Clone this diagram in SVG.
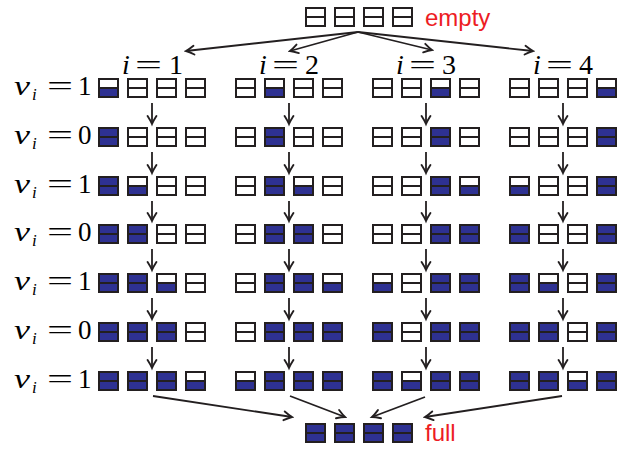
<svg xmlns="http://www.w3.org/2000/svg" xmlns:xlink="http://www.w3.org/1999/xlink" width="634" height="450" viewBox="0 0 634 450">
<style>
.b{fill:none;stroke:#231f20;stroke-width:2}
.w{fill:#ffffff}
.f{fill:#2e3192}
.c{fill:none;stroke:#231f20;stroke-width:1.8}
.m{font-family:"Liberation Serif","Times New Roman",serif;fill:#000}
.s{font-size:27px}
.v{font-size:28px;font-style:italic}
.t{font-size:28px}
.sub{font-size:17px;font-style:italic}
.it{font-style:italic}
.red{font-family:"Liberation Sans",Arial,sans-serif;font-size:24px;fill:#ed1c24}
</style>
<defs>
<marker id="ah" markerUnits="userSpaceOnUse" markerWidth="12" markerHeight="12" viewBox="-9 -6 11 12" refX="0" refY="0" orient="auto">
<path d="M-8,-4.4 Q-3,-1.2 0,0 Q-3,1.2 -8,4.4" fill="none" stroke="#231f20" stroke-width="1.9" stroke-linecap="round"/>
</marker>
<g id="E"><rect class="w" x="1" y="1" width="19" height="18"/><rect class="b" x="1" y="1" width="19" height="18"/><line class="b" x1="1" y1="10" x2="20" y2="10"/></g>
<g id="H"><rect class="w" x="1" y="1" width="19" height="9"/><rect class="f" x="1" y="10" width="19" height="9"/><rect class="b" x="1" y="1" width="19" height="18"/><line class="b" x1="1" y1="10" x2="20" y2="10"/></g>
<g id="F"><rect class="f" x="1" y="1" width="19" height="18"/><rect class="b" x="1" y="1" width="19" height="18"/><line class="b" x1="1" y1="10" x2="20" y2="10"/></g>
</defs>
<rect width="634" height="450" fill="#ffffff"/>

<g id="empty">
<use xlink:href="#E" x="305" y="7"/><use xlink:href="#E" x="334" y="7"/><use xlink:href="#E" x="363" y="7"/><use xlink:href="#E" x="392" y="7"/>
<text class="red" x="425" y="26">empty</text>
</g>
<g id="full">
<use xlink:href="#F" x="305" y="423"/><use xlink:href="#F" x="334" y="423"/><use xlink:href="#F" x="363" y="423"/><use xlink:href="#F" x="392" y="423"/>
<text class="red" x="425" y="441">full</text>
</g>

<g id="col-labels">
<g id="lab-i1"><text class="m t it" x="122" y="74">i</text><text class="m t" x="135" y="74" textLength="27" lengthAdjust="spacingAndGlyphs">=</text><text class="m t" x="169" y="74">1</text></g>
<g id="lab-i2"><text class="m t it" x="259" y="74">i</text><text class="m t" x="272" y="74" textLength="27" lengthAdjust="spacingAndGlyphs">=</text><text class="m t" x="305" y="74">2</text></g>
<g id="lab-i3"><text class="m t it" x="396" y="74">i</text><text class="m t" x="409" y="74" textLength="27" lengthAdjust="spacingAndGlyphs">=</text><text class="m t" x="442" y="74">3</text></g>
<g id="lab-i4"><text class="m t it" x="533" y="74">i</text><text class="m t" x="546" y="74" textLength="27" lengthAdjust="spacingAndGlyphs">=</text><text class="m t" x="579" y="74">4</text></g>
</g>

<g id="row-labels">
<g id="lab-r1"><text class="m v" x="14" y="95" textLength="16" lengthAdjust="spacingAndGlyphs">v</text><text class="m sub" x="32" y="100">i</text><text class="m s" x="47" y="95" textLength="26" lengthAdjust="spacingAndGlyphs">=</text><text class="m s" x="78" y="95">1</text></g>
<g id="lab-r2"><text class="m v" x="14" y="144" textLength="16" lengthAdjust="spacingAndGlyphs">v</text><text class="m sub" x="32" y="149">i</text><text class="m s" x="47" y="144" textLength="26" lengthAdjust="spacingAndGlyphs">=</text><text class="m s" x="78" y="144">0</text></g>
<g id="lab-r3"><text class="m v" x="14" y="193" textLength="16" lengthAdjust="spacingAndGlyphs">v</text><text class="m sub" x="32" y="198">i</text><text class="m s" x="47" y="193" textLength="26" lengthAdjust="spacingAndGlyphs">=</text><text class="m s" x="78" y="193">1</text></g>
<g id="lab-r4"><text class="m v" x="14" y="241" textLength="16" lengthAdjust="spacingAndGlyphs">v</text><text class="m sub" x="32" y="246">i</text><text class="m s" x="47" y="241" textLength="26" lengthAdjust="spacingAndGlyphs">=</text><text class="m s" x="78" y="241">0</text></g>
<g id="lab-r5"><text class="m v" x="14" y="290" textLength="16" lengthAdjust="spacingAndGlyphs">v</text><text class="m sub" x="32" y="295">i</text><text class="m s" x="47" y="290" textLength="26" lengthAdjust="spacingAndGlyphs">=</text><text class="m s" x="78" y="290">1</text></g>
<g id="lab-r6"><text class="m v" x="14" y="339" textLength="16" lengthAdjust="spacingAndGlyphs">v</text><text class="m sub" x="32" y="344">i</text><text class="m s" x="47" y="339" textLength="26" lengthAdjust="spacingAndGlyphs">=</text><text class="m s" x="78" y="339">0</text></g>
<g id="lab-r7"><text class="m v" x="14" y="388" textLength="16" lengthAdjust="spacingAndGlyphs">v</text><text class="m sub" x="32" y="393">i</text><text class="m s" x="47" y="388" textLength="26" lengthAdjust="spacingAndGlyphs">=</text><text class="m s" x="78" y="388">1</text></g>
</g>

<g id="col1">
<g id="s1-1"><use xlink:href="#H" x="98" y="78"/><use xlink:href="#E" x="127" y="78"/><use xlink:href="#E" x="156" y="78"/><use xlink:href="#E" x="185" y="78"/></g>
<g id="s1-2"><use xlink:href="#F" x="98" y="127"/><use xlink:href="#E" x="127" y="127"/><use xlink:href="#E" x="156" y="127"/><use xlink:href="#E" x="185" y="127"/></g>
<g id="s1-3"><use xlink:href="#F" x="98" y="176"/><use xlink:href="#H" x="127" y="176"/><use xlink:href="#E" x="156" y="176"/><use xlink:href="#E" x="185" y="176"/></g>
<g id="s1-4"><use xlink:href="#F" x="98" y="224"/><use xlink:href="#F" x="127" y="224"/><use xlink:href="#E" x="156" y="224"/><use xlink:href="#E" x="185" y="224"/></g>
<g id="s1-5"><use xlink:href="#F" x="98" y="273"/><use xlink:href="#F" x="127" y="273"/><use xlink:href="#H" x="156" y="273"/><use xlink:href="#E" x="185" y="273"/></g>
<g id="s1-6"><use xlink:href="#F" x="98" y="322"/><use xlink:href="#F" x="127" y="322"/><use xlink:href="#F" x="156" y="322"/><use xlink:href="#E" x="185" y="322"/></g>
<g id="s1-7"><use xlink:href="#F" x="98" y="371"/><use xlink:href="#F" x="127" y="371"/><use xlink:href="#F" x="156" y="371"/><use xlink:href="#H" x="185" y="371"/></g>
</g>
<g id="col2">
<g id="s2-1"><use xlink:href="#E" x="235" y="78"/><use xlink:href="#H" x="264" y="78"/><use xlink:href="#E" x="293" y="78"/><use xlink:href="#E" x="322" y="78"/></g>
<g id="s2-2"><use xlink:href="#E" x="235" y="127"/><use xlink:href="#F" x="264" y="127"/><use xlink:href="#E" x="293" y="127"/><use xlink:href="#E" x="322" y="127"/></g>
<g id="s2-3"><use xlink:href="#E" x="235" y="176"/><use xlink:href="#F" x="264" y="176"/><use xlink:href="#H" x="293" y="176"/><use xlink:href="#E" x="322" y="176"/></g>
<g id="s2-4"><use xlink:href="#E" x="235" y="224"/><use xlink:href="#F" x="264" y="224"/><use xlink:href="#F" x="293" y="224"/><use xlink:href="#E" x="322" y="224"/></g>
<g id="s2-5"><use xlink:href="#E" x="235" y="273"/><use xlink:href="#F" x="264" y="273"/><use xlink:href="#F" x="293" y="273"/><use xlink:href="#H" x="322" y="273"/></g>
<g id="s2-6"><use xlink:href="#E" x="235" y="322"/><use xlink:href="#F" x="264" y="322"/><use xlink:href="#F" x="293" y="322"/><use xlink:href="#F" x="322" y="322"/></g>
<g id="s2-7"><use xlink:href="#H" x="235" y="371"/><use xlink:href="#F" x="264" y="371"/><use xlink:href="#F" x="293" y="371"/><use xlink:href="#F" x="322" y="371"/></g>
</g>
<g id="col3">
<g id="s3-1"><use xlink:href="#E" x="372" y="78"/><use xlink:href="#E" x="401" y="78"/><use xlink:href="#H" x="430" y="78"/><use xlink:href="#E" x="459" y="78"/></g>
<g id="s3-2"><use xlink:href="#E" x="372" y="127"/><use xlink:href="#E" x="401" y="127"/><use xlink:href="#F" x="430" y="127"/><use xlink:href="#E" x="459" y="127"/></g>
<g id="s3-3"><use xlink:href="#E" x="372" y="176"/><use xlink:href="#E" x="401" y="176"/><use xlink:href="#F" x="430" y="176"/><use xlink:href="#H" x="459" y="176"/></g>
<g id="s3-4"><use xlink:href="#E" x="372" y="224"/><use xlink:href="#E" x="401" y="224"/><use xlink:href="#F" x="430" y="224"/><use xlink:href="#F" x="459" y="224"/></g>
<g id="s3-5"><use xlink:href="#H" x="372" y="273"/><use xlink:href="#E" x="401" y="273"/><use xlink:href="#F" x="430" y="273"/><use xlink:href="#F" x="459" y="273"/></g>
<g id="s3-6"><use xlink:href="#F" x="372" y="322"/><use xlink:href="#E" x="401" y="322"/><use xlink:href="#F" x="430" y="322"/><use xlink:href="#F" x="459" y="322"/></g>
<g id="s3-7"><use xlink:href="#F" x="372" y="371"/><use xlink:href="#H" x="401" y="371"/><use xlink:href="#F" x="430" y="371"/><use xlink:href="#F" x="459" y="371"/></g>
</g>
<g id="col4">
<g id="s4-1"><use xlink:href="#E" x="509" y="78"/><use xlink:href="#E" x="538" y="78"/><use xlink:href="#E" x="567" y="78"/><use xlink:href="#H" x="596" y="78"/></g>
<g id="s4-2"><use xlink:href="#E" x="509" y="127"/><use xlink:href="#E" x="538" y="127"/><use xlink:href="#E" x="567" y="127"/><use xlink:href="#F" x="596" y="127"/></g>
<g id="s4-3"><use xlink:href="#H" x="509" y="176"/><use xlink:href="#E" x="538" y="176"/><use xlink:href="#E" x="567" y="176"/><use xlink:href="#F" x="596" y="176"/></g>
<g id="s4-4"><use xlink:href="#F" x="509" y="224"/><use xlink:href="#E" x="538" y="224"/><use xlink:href="#E" x="567" y="224"/><use xlink:href="#F" x="596" y="224"/></g>
<g id="s4-5"><use xlink:href="#F" x="509" y="273"/><use xlink:href="#H" x="538" y="273"/><use xlink:href="#E" x="567" y="273"/><use xlink:href="#F" x="596" y="273"/></g>
<g id="s4-6"><use xlink:href="#F" x="509" y="322"/><use xlink:href="#F" x="538" y="322"/><use xlink:href="#E" x="567" y="322"/><use xlink:href="#F" x="596" y="322"/></g>
<g id="s4-7"><use xlink:href="#F" x="509" y="371"/><use xlink:href="#F" x="538" y="371"/><use xlink:href="#H" x="567" y="371"/><use xlink:href="#F" x="596" y="371"/></g>
</g>

<g id="connectors" class="c" marker-end="url(#ah)">
<line x1="358" y1="32" x2="186" y2="51"/>
<line x1="358" y1="32" x2="290" y2="51"/>
<line x1="358" y1="32" x2="432" y2="50"/>
<line x1="358" y1="32" x2="533" y2="51"/>
<line x1="152" y1="103" x2="152" y2="124"/><line x1="152" y1="152" x2="152" y2="173"/><line x1="152" y1="201" x2="152" y2="221"/><line x1="152" y1="249" x2="152" y2="270"/><line x1="152" y1="298" x2="152" y2="319"/><line x1="152" y1="347" x2="152" y2="368"/>
<line x1="289" y1="103" x2="289" y2="124"/><line x1="289" y1="152" x2="289" y2="173"/><line x1="289" y1="201" x2="289" y2="221"/><line x1="289" y1="249" x2="289" y2="270"/><line x1="289" y1="298" x2="289" y2="319"/><line x1="289" y1="347" x2="289" y2="368"/>
<line x1="426" y1="103" x2="426" y2="124"/><line x1="426" y1="152" x2="426" y2="173"/><line x1="426" y1="201" x2="426" y2="221"/><line x1="426" y1="249" x2="426" y2="270"/><line x1="426" y1="298" x2="426" y2="319"/><line x1="426" y1="347" x2="426" y2="368"/>
<line x1="563" y1="103" x2="563" y2="124"/><line x1="563" y1="152" x2="563" y2="173"/><line x1="563" y1="201" x2="563" y2="221"/><line x1="563" y1="249" x2="563" y2="270"/><line x1="563" y1="298" x2="563" y2="319"/><line x1="563" y1="347" x2="563" y2="368"/>
<line x1="153" y1="396" x2="292" y2="417"/>
<line x1="290" y1="396" x2="345" y2="417"/>
<line x1="425" y1="397" x2="372" y2="417"/>
<line x1="562" y1="396" x2="425" y2="417"/>
</g>
</svg>
